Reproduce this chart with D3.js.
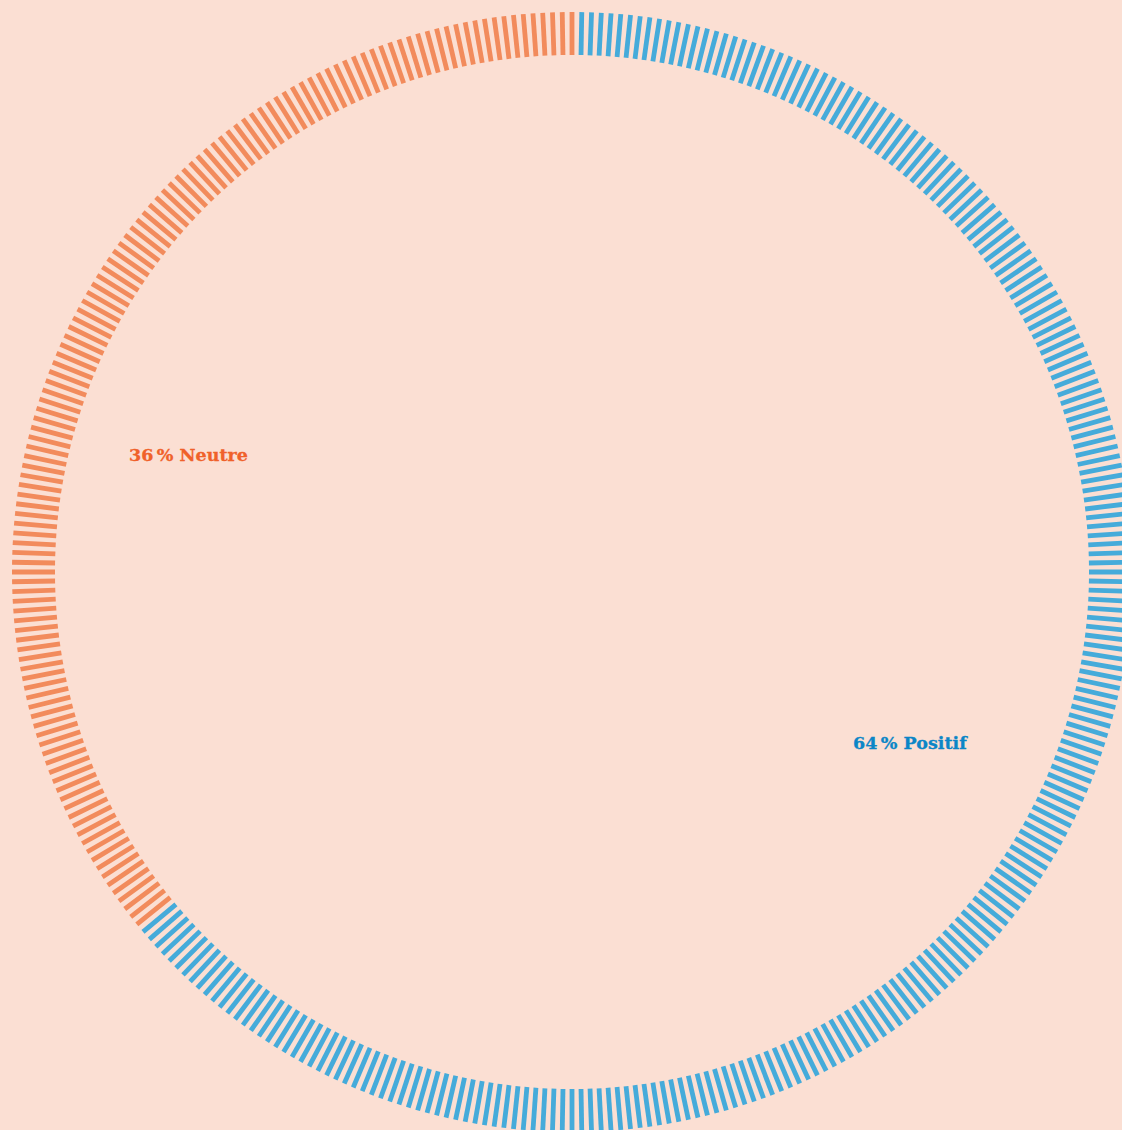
<!DOCTYPE html>
<html><head><meta charset="utf-8">
<script src="https://cdn.jsdelivr.net/npm/d3@7"></script>
<style>html,body{margin:0;padding:0;background:#FBDFD3;overflow:hidden}</style>
</head><body>
<svg id="c" width="1122" height="1130"></svg>
<script>
const categories = ["Positif", "Neutre"];
const values = [64, 36];
const labels = ["64\u202F% Positif", "36\u202F% Neutre"];
const tickColors = ["#45ABDA", "#F28B5C"];
const textColors = ["#0B86C7", "#F0612A"];

const W = 1122, H = 1130, cx = 572, cy = 572;
const rIn = 517, rOut = 560, nTicks = 360;
const svg = d3.select("#c");
svg.append("rect").attr("width", W).attr("height", H).attr("fill", "#FBDFD3");

const total = d3.sum(values);
const cum = d3.cumsum(values).map(v => v / total);
const ticks = d3.range(1, nTicks + 1);
const angle = d3.scaleLinear().domain([0, nTicks]).range([0, 2 * Math.PI]);
const catOf = i => { const f = i / nTicks; return cum.findIndex(c => f <= c + 1e-9); };

const g = svg.append("g").attr("transform", `translate(${cx},${cy})`);
g.selectAll("line.t").data(ticks).join("line")
  .attr("class", "t")
  .attr("x1", d => rIn * Math.sin(angle(d)))
  .attr("y1", d => -rIn * Math.cos(angle(d)))
  .attr("x2", d => rOut * Math.sin(angle(d)))
  .attr("y2", d => -rOut * Math.cos(angle(d)))
  .attr("stroke", d => tickColors[Math.max(0, catOf(d))])
  .attr("stroke-width", 4.8);

// label anchor points (relative to centre)
const labelPos = [[281, 177], [-443, -111]];
g.selectAll("text.l").data(categories).join("text")
  .attr("class", "l")
  .attr("x", (d, i) => labelPos[i][0])
  .attr("y", (d, i) => labelPos[i][1])
  .attr("fill", (d, i) => textColors[i])
  .attr("font-family", "'DejaVu Serif', serif")
  .attr("font-weight", "bold")
  .attr("font-size", 17.5)
  .attr("stroke", (d, i) => textColors[i])
  .attr("stroke-width", 0.3)
  .text((d, i) => labels[i]);
</script>
</body></html>
